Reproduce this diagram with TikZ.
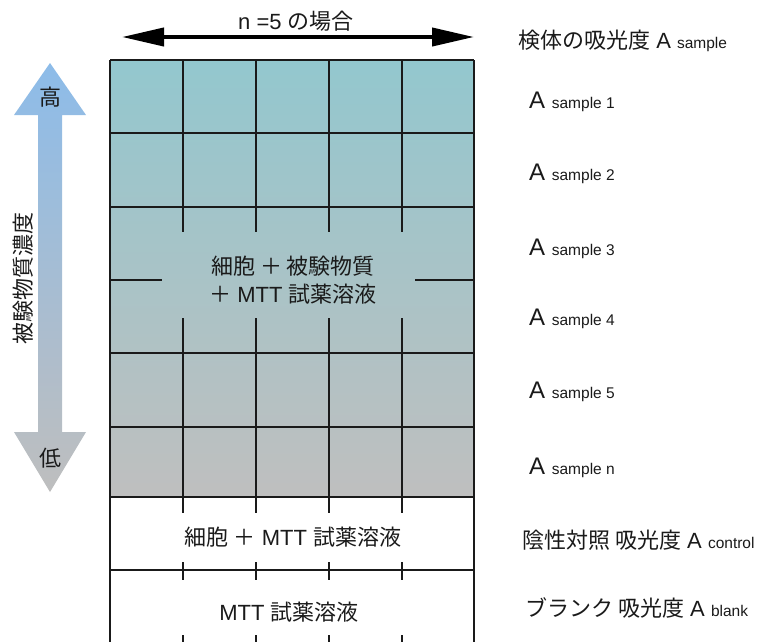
\documentclass[tikz,border=0pt]{standalone}
\usepackage{fontspec}
\setmainfont{Liberation Sans}
\newfontfamily\jp{Noto Sans CJK JP}
\usetikzlibrary{arrows.meta}
\definecolor{gridtop}{HTML}{93C7CE}
\definecolor{gridbot}{HTML}{BFBFBF}
\definecolor{arrtop}{HTML}{8DBCE9}
\definecolor{arrbot}{HTML}{BEBEBE}
\definecolor{ink}{HTML}{1A1A1A}
\newcommand\bigfs{\fontsize{22}{28}\selectfont}
\newcommand\bigAfs{\fontsize{24}{28}\selectfont}
\newcommand\smallfs{\fontsize{15.5}{18}\selectfont}
\begin{document}
\begin{tikzpicture}[x=1pt,y=-1pt,
  grid/.style={line width=1.9pt, draw=ink},
  celltext/.style={inner sep=0pt, align=center, font=\bigfs, text=ink},
  rlabel/.style={inner sep=0pt, anchor=base west, font=\bigfs, text=ink},
  slabel/.style={inner sep=0pt, anchor=base west, font=\bigAfs, text=ink},
  sidetext/.style={inner sep=0pt, font=\bigfs\jp, text=ink}]
\useasboundingbox (0,0) rectangle (772,641);
% plate fill
\shade[top color=gridtop, bottom color=gridbot] (110,60) rectangle (474,497);
% grid lines
\foreach \yy in {60,133,207,353,427,497,570}
  \draw[grid] (110,\yy) -- (474,\yy);
\draw[grid] (110,60) -- (110,650);
\draw[grid] (474,60) -- (474,650);
\foreach \xx in {183,256,329,402} {
  \draw[grid] (\xx,60) -- (\xx,232);
  \draw[grid] (\xx,318) -- (\xx,497);
  \draw[grid] (\xx,497) -- (\xx,513);
  \draw[grid] (\xx,562) -- (\xx,580);
  \draw[grid] (\xx,635) -- (\xx,650);
}
\draw[grid] (110,280) -- (162,280);
\draw[grid] (415,280) -- (474,280);
% cell texts
\node[celltext] (mix) at (293,280) {{\jp 細胞 ＋ 被験物質}\\{\jp ＋} MTT {\jp 試薬溶液}};
\node[celltext] (ctrl) at (293,537) {{\jp 細胞 ＋} MTT {\jp 試薬溶液}};
\node[celltext] (blk) at (289,612) {MTT {\jp 試薬溶液}};
% top arrow
\coordinate (aL) at (122,37);
\coordinate (aR) at (474,37);
\draw[line width=4pt, draw=black, {Triangle[length=42pt,width=18pt]}-{Triangle[length=42pt,width=18pt]}] (aL) -- (aR);
\node[celltext] (ncase) at (296,21) {n =5 {\jp の場合}};
% left gradient arrow
\shade[top color=arrtop, bottom color=arrbot]
  (50,63) -- (86,115) -- (62,115) -- (62,432) -- (86,432) -- (50,492)
  -- (14,432) -- (38,432) -- (38,115) -- (14,115) -- cycle;
\node[sidetext] (hi) at (50,97) {高};
\node[sidetext] (lo) at (50,458) {低};
\node[sidetext, rotate=90] (conc) at (23,278) {被験物質濃度};
% right labels
\node[rlabel] (hdr) at (518,48) {{\jp 検体の吸光度} A {\smallfs sample}};
\node[slabel] (s1) at (529,108) {A {\smallfs sample 1}};
\node[slabel] (s2) at (529,180) {A {\smallfs sample 2}};
\node[slabel] (s3) at (529,255) {A {\smallfs sample 3}};
\node[slabel] (s4) at (529,325) {A {\smallfs sample 4}};
\node[slabel] (s5) at (529,398) {A {\smallfs sample 5}};
\node[slabel] (sn) at (529,474) {A {\smallfs sample n}};
\node[rlabel] (actl) at (522,548) {{\jp 陰性対照 吸光度} A {\smallfs control}};
\node[rlabel] (ablk) at (525,616) {{\jp ブランク 吸光度} A {\smallfs blank}};
\end{tikzpicture}
\end{document}
